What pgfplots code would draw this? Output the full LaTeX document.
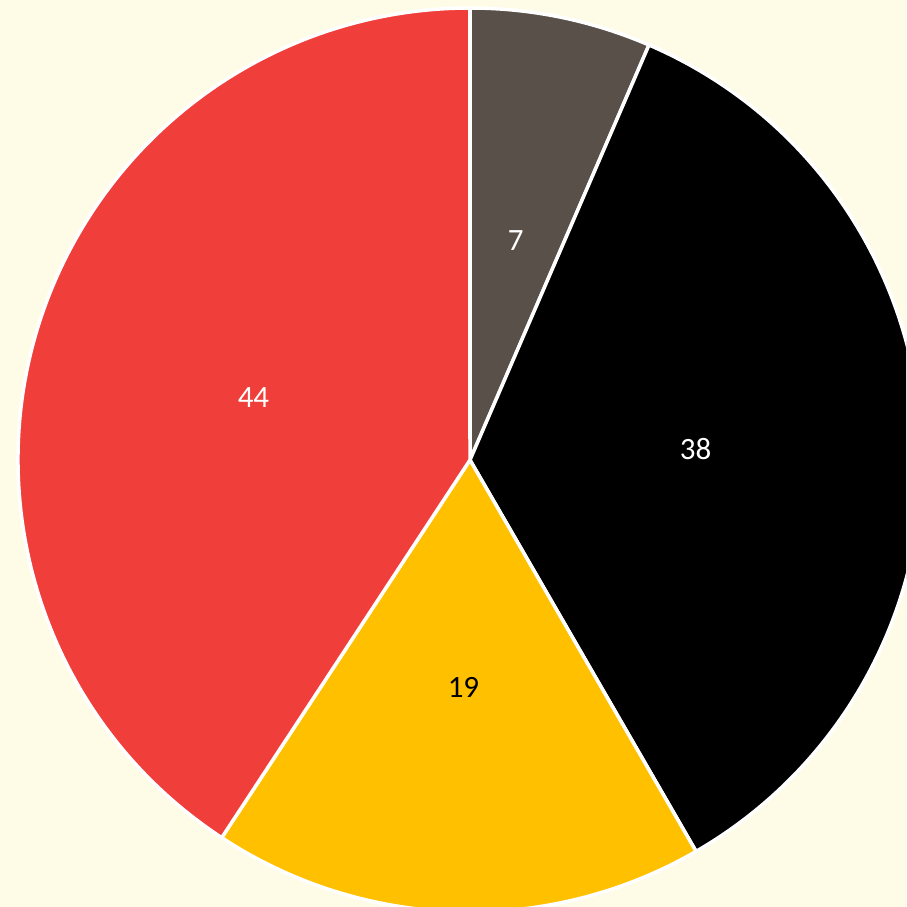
\documentclass[border=0pt]{standalone}
\usepackage{pgfplots}
\pgfplotsset{compat=1.18}
\usepackage{fontspec}
\setmainfont{Carlito}
\definecolor{bgcol}{RGB}{254,252,231}
\definecolor{sliceA}{RGB}{89,80,73}
\definecolor{sliceB}{RGB}{0,0,0}
\definecolor{sliceC}{RGB}{255,192,0}
\definecolor{sliceD}{RGB}{240,62,58}
\begin{document}
\begin{tikzpicture}
  % pie values, clockwise from the top
  \def\vA{7}\def\vB{38}\def\vC{19}\def\vD{44}
  \pgfmathsetmacro{\tot}{\vA+\vB+\vC+\vD}
  \pgfmathsetmacro{\aA}{90}
  \pgfmathsetmacro{\aB}{\aA-\vA/\tot*360}
  \pgfmathsetmacro{\aC}{\aB-\vB/\tot*360}
  \pgfmathsetmacro{\aD}{\aC-\vC/\tot*360}
  \pgfmathsetmacro{\aE}{\aD-\vD/\tot*360}
  % label positions at half radius
  \pgfmathsetmacro{\lAx}{0.5*cos((\aA+\aB)/2)}\pgfmathsetmacro{\lAy}{0.5*sin((\aA+\aB)/2)}
  \pgfmathsetmacro{\lBx}{0.5*cos((\aB+\aC)/2)}\pgfmathsetmacro{\lBy}{0.5*sin((\aB+\aC)/2)}
  \pgfmathsetmacro{\lCx}{0.5*cos((\aC+\aD)/2)}\pgfmathsetmacro{\lCy}{0.5*sin((\aC+\aD)/2)}
  \pgfmathsetmacro{\lDx}{0.5*cos((\aD+\aE)/2)}\pgfmathsetmacro{\lDy}{0.5*sin((\aD+\aE)/2)}
  \pgfmathsetmacro{\pAx}{cos(\aA)}\pgfmathsetmacro{\pAy}{sin(\aA)}
  \pgfmathsetmacro{\pBx}{cos(\aB)}\pgfmathsetmacro{\pBy}{sin(\aB)}
  \pgfmathsetmacro{\pCx}{cos(\aC)}\pgfmathsetmacro{\pCy}{sin(\aC)}
  \pgfmathsetmacro{\pDx}{cos(\aD)}\pgfmathsetmacro{\pDy}{sin(\aD)}
  \def\R{452pt}
  \tikzset{slice/.style={draw=white, line width=3.5pt, line join=round}}
  \tikzset{lbl/.style={font=\fontsize{31}{37}\selectfont, inner sep=0pt, yshift=-2pt}}

  \useasboundingbox (0,0) rectangle (906pt,907pt);
  \begin{axis}[%
    at={(0,0)}, anchor=south west,%
    scale only axis,%
    width=906pt, height=907pt,%
    xmin=-1.03982, xmax=0.96460,%
    ymin=-0.98894, ymax=1.01770,%
    hide axis,%
    clip=true,%
    ]
    \fill[bgcol] (rel axis cs:0,0) rectangle (rel axis cs:1,1);
    \filldraw[slice, fill=sliceA] (axis cs:0,0) -- (axis cs:\pAx,\pAy)
      arc[start angle=\aA, end angle=\aB, radius=\R] -- cycle;
    \filldraw[slice, fill=sliceB] (axis cs:0,0) -- (axis cs:\pBx,\pBy)
      arc[start angle=\aB, end angle=\aC, radius=\R] -- cycle;
    \filldraw[slice, fill=sliceC] (axis cs:0,0) -- (axis cs:\pCx,\pCy)
      arc[start angle=\aC, end angle=\aD, radius=\R] -- cycle;
    \filldraw[slice, fill=sliceD] (axis cs:0,0) -- (axis cs:\pDx,\pDy)
      arc[start angle=\aD, end angle=\aE, radius=\R] -- cycle;
    \node[lbl, text=white] at (axis cs:\lAx,\lAy) {\vA};
    \node[lbl, text=white] at (axis cs:\lBx,\lBy) {\vB};
    \node[lbl, text=black] at (axis cs:\lCx,\lCy) {\vC};
    \node[lbl, text=white] at (axis cs:\lDx,\lDy) {\vD};
  \end{axis}
\end{tikzpicture}
\end{document}
